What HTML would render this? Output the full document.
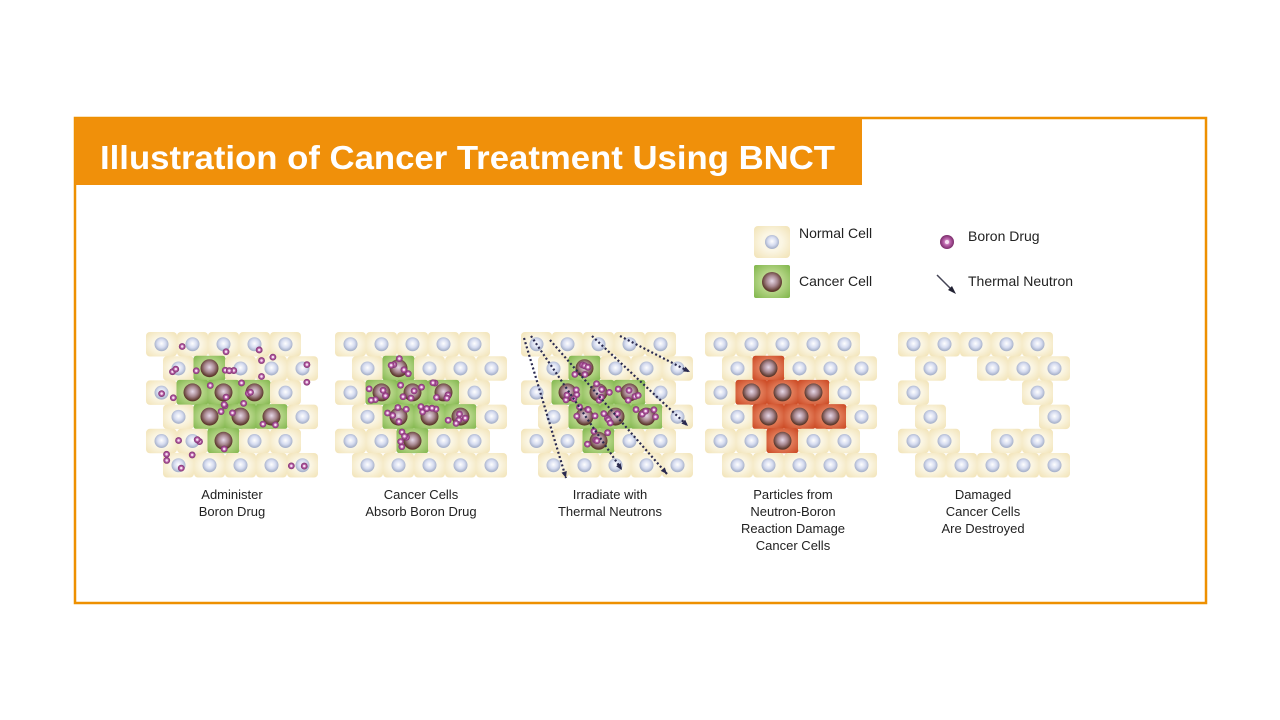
<!DOCTYPE html>
<html><head><meta charset="utf-8"><style>
html,body{margin:0;padding:0;background:#fff;width:1280px;height:720px;overflow:hidden}
svg{display:block}
text{font-family:"Liberation Sans",sans-serif}
</style></head><body>
<svg id="s" width="1280" height="720" viewBox="0 0 1280 720" xmlns="http://www.w3.org/2000/svg">
<defs>
<radialGradient id="nuc" cx="50%" cy="45%" r="50%"><stop offset="0" stop-color="#ffffff"/><stop offset="0.6" stop-color="#d6dcf0"/><stop offset="1" stop-color="#aab4cc"/></radialGradient>
<radialGradient id="cnuc" cx="50%" cy="45%" r="50%"><stop offset="0" stop-color="#e6d8e8"/><stop offset="0.55" stop-color="#a88890"/><stop offset="1" stop-color="#5e3a2e"/></radialGradient>
<radialGradient id="cell" cx="50%" cy="50%" r="70%"><stop offset="0.4" stop-color="#fbf6e4"/><stop offset="1" stop-color="#f1e2b4"/></radialGradient>
<radialGradient id="green" cx="50%" cy="50%" r="70%"><stop offset="0.3" stop-color="#c4de98"/><stop offset="1" stop-color="#7fb54a"/></radialGradient>
<radialGradient id="red" cx="50%" cy="50%" r="70%"><stop offset="0.3" stop-color="#e88a68"/><stop offset="1" stop-color="#c9441e"/></radialGradient>
<radialGradient id="boron" cx="50%" cy="50%" r="50%"><stop offset="0" stop-color="#f4d0f0"/><stop offset="0.5" stop-color="#b860a8"/><stop offset="1" stop-color="#7a2c6a"/></radialGradient>
</defs>
<rect x="75" y="118" width="1131" height="485" fill="#fff" stroke="#ee9000" stroke-width="2.5"/>
<rect x="75" y="118" width="787" height="67" fill="#f0900a"/>
<text x="100" y="169" font-size="33" font-weight="bold" fill="#fff" textLength="735" lengthAdjust="spacingAndGlyphs">Illustration of Cancer Treatment Using BNCT</text>
<g id="g"></g>
<g font-size="14" fill="#222">
<text x="799" y="238">Normal Cell</text>
<text x="799" y="286">Cancer Cell</text>
<text x="968" y="241">Boron Drug</text>
<text x="968" y="286">Thermal Neutron</text>
</g>
<g font-size="13" fill="#222" text-anchor="middle">
<text x="232" y="499">Administer</text><text x="232" y="516">Boron Drug</text>
<text x="421" y="499">Cancer Cells</text><text x="421" y="516">Absorb Boron Drug</text>
<text x="610" y="499">Irradiate with</text><text x="610" y="516">Thermal Neutrons</text>
<text x="793" y="499">Particles from</text><text x="793" y="516">Neutron-Boron</text><text x="793" y="533">Reaction Damage</text><text x="793" y="550">Cancer Cells</text>
<text x="983" y="499">Damaged</text><text x="983" y="516">Cancer Cells</text><text x="983" y="533">Are Destroyed</text>
</g>
</svg>
<script>
const g=document.getElementById('g');let h='';
function cellN(x,y,w,hh){h+=`<rect x="${x}" y="${y}" width="${w}" height="${hh}" rx="4" fill="url(#cell)"/><circle cx="${x+w/2}" cy="${y+hh/2}" r="7" fill="url(#nuc)"/>`;}
function cellC(x,y,w,hh,fill){h+=`<rect x="${x}" y="${y}" width="${w}" height="${hh}" rx="3" fill="url(#${fill})"/><circle cx="${x+w/2}" cy="${y+hh/2}" r="9" fill="url(#cnuc)"/>`;}
function boron(x,y){h+=`<circle cx="${x}" cy="${y}" r="3.4" fill="url(#boron)"/><circle cx="${x}" cy="${y}" r="1.2" fill="#f6e0f2"/>`;}
const cancer=[[1,1],[2,1],[2,2],[2,3],[3,1],[3,2],[3,3],[4,2]];
function isC(r,c){return cancer.some(a=>a[0]==r&&a[1]==c);}
const px=[146,335,521,705,898];
let seed=7;function rnd(){seed=(seed*9301+49297)%233280;return seed/233280;}
px.forEach((x0,p)=>{
 for(let r=0;r<6;r++){const y=332+r*24.2;const off=(r%2)?17:0;
  for(let c=0;c<5;c++){const x=x0+off+c*31;
   if(isC(r,c)){
    if(p==4){continue;}
    cellC(x-0.5,y-0.5,32,25,p==3?'red':'green');
   } else cellN(x,y,31,24.5);
  }}
 if(p==0){for(let i=0;i<38;i++){boron(x0+8+rnd()*160,340+rnd()*130);}}
 if(p==1||p==2){cancer.forEach(([r,c])=>{const off=(r%2)?17:0;const cx=x0+off+c*31+15,cy=332+r*24.2+11;for(let k=0;k<5;k++)boron(cx+(rnd()-0.5)*24,cy+(rnd()-0.5)*18);});}
 if(p==2){
  const lines=[[524,338,566,478],[531,336,622,470],[550,340,667,474],[592,336,688,426],[620,336,690,372]];
  lines.forEach(([a,b,c,d])=>{h+=`<line x1="${a}" y1="${b}" x2="${c}" y2="${d}" stroke="#2a2a50" stroke-width="2.2" stroke-dasharray="2 2.4"/>`;
   const ang=Math.atan2(d-b,c-a);const s=7;h+=`<polygon points="${c},${d} ${c-s*Math.cos(ang-0.4)},${d-s*Math.sin(ang-0.4)} ${c-s*Math.cos(ang+0.4)},${d-s*Math.sin(ang+0.4)}" fill="#2a2a50"/>`;});}
});
cellN(754,226,36,32);
h+=`<rect x="754" y="265" width="36" height="33" rx="2" fill="url(#green)"/><circle cx="772" cy="282" r="10" fill="url(#cnuc)"/>`;
h+=`<circle cx="947" cy="242" r="7" fill="url(#boron)"/><circle cx="947" cy="242" r="2" fill="#f6e0f2"/>`;
h+=`<line x1="937" y1="275" x2="953" y2="291" stroke="#445" stroke-width="1.5"/><polygon points="956,294 948,290 952,286" fill="#223"/>`;
g.innerHTML=h;
</script>
</body></html>
